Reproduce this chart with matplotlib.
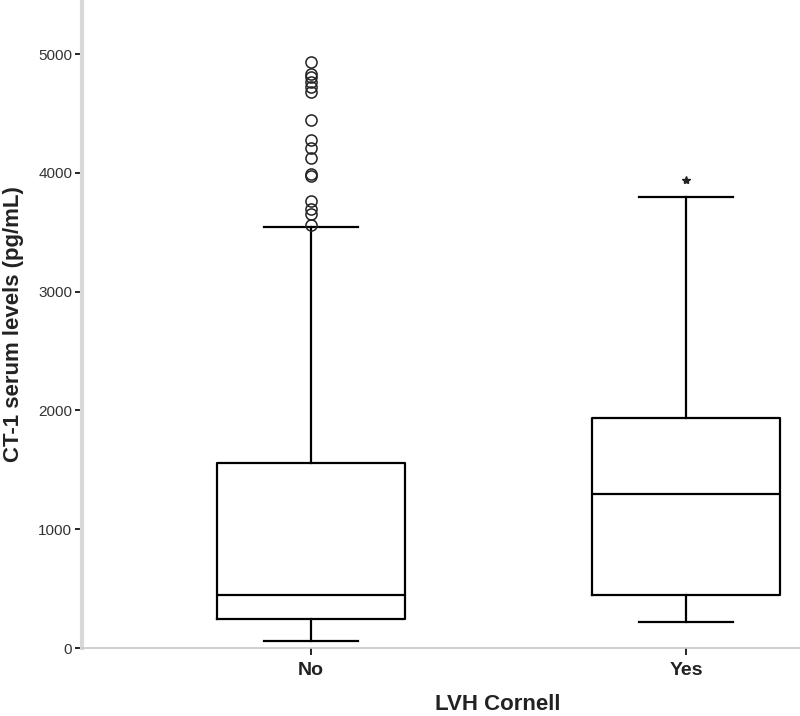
import matplotlib
matplotlib.use("Agg")
import matplotlib.pyplot as plt

plt.rcParams['font.family'] = ['Liberation Sans', 'DejaVu Sans']

groups = ["No", "Yes"]
q1 = [245, 447]
medians = [447, 1298]
q3 = [1560, 1939]
whisker_low = [59, 219]
whisker_high = [3541, 3794]
outliers_no = [4930, 4836, 4803, 4766, 4724, 4682, 4443, 4280, 4205, 4129,
               3994, 3975, 3763, 3699, 3657, 3558]
extremes_yes = [3937]

fig = plt.figure(figsize=(8, 7.16), dpi=100)
ax = fig.add_axes([82 / 800, 68 / 716, 718 / 800, 648 / 716])

stats = []
for i, g in enumerate(groups):
    stats.append({'label': g, 'q1': q1[i], 'med': medians[i], 'q3': q3[i],
                  'whislo': whisker_low[i], 'whishi': whisker_high[i], 'fliers': []})

lw = 1.6
ax.bxp(stats, positions=[1, 2], widths=0.5, showfliers=False,
       boxprops=dict(color='black', linewidth=lw),
       medianprops=dict(color='black', linewidth=lw),
       whiskerprops=dict(color='black', linewidth=lw),
       capprops=dict(color='black', linewidth=lw))

ax.plot([1] * len(outliers_no), outliers_no, linestyle='none', marker='o',
        markersize=8, markerfacecolor='none', markeredgecolor='#222222', markeredgewidth=1.1)
ax.plot([2] * len(extremes_yes), extremes_yes, linestyle='none', marker='*',
        markersize=6, color='#222222')

ax.set_xlim(0.389, 2.304)
ax.set_ylim(0, 5455)
ax.set_yticks([0, 1000, 2000, 3000, 4000, 5000])
ax.set_xticks([1, 2])
ax.set_xticklabels(groups, fontsize=14, fontweight='bold', color='#222222')

for s in ['top', 'right']:
    ax.spines[s].set_visible(False)
ax.spines['left'].set_color('#d8d8d8')
ax.spines['left'].set_linewidth(3)
ax.spines['bottom'].set_color('#c8c8c8')
ax.spines['bottom'].set_linewidth(1.2)

ax.tick_params(axis='y', length=5, width=1.2, color='black', labelsize=11,
               labelcolor='#333333', pad=2)
ax.tick_params(axis='x', length=5, width=1.2, color='black', pad=5)

ax.set_ylabel('CT-1 serum levels (pg/mL)', fontsize=16, fontweight='bold',
              color='#222222', labelpad=10)
ax.set_xlabel('LVH Cornell', fontsize=16, fontweight='bold', color='#222222')
ax.xaxis.set_label_coords((498 - 82) / 718, -38 / 648 - 0.012)

fig.savefig('out.png', dpi=100)
